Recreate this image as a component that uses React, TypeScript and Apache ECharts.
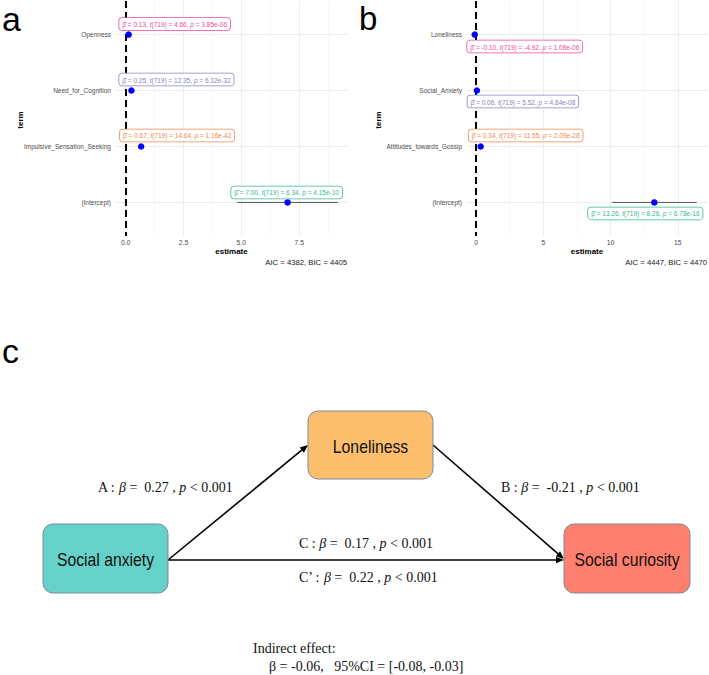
import React, { useEffect, useRef } from "react";
import * as echarts from "echarts";

// ---------- Panel a data ----------
const termsA = ["Openness", "Need_for_Cognition", "Impulsive_Sensation_Seeking", "(Intercept)"];
const estA = [0.13, 0.25, 0.67, 7.0];
const lowA = [0.075, 0.21, 0.58, 4.83];
const highA = [0.185, 0.29, 0.76, 9.17];
const tA = [4.66, 12.35, 14.64, 6.34];
const pA = ["3.85e-06", "6.32e-32", "1.16e-42", "4.15e-10"];
const ticksA = [0, 2.5, 5, 7.5];
const minorA = [1.25, 3.75, 6.25, 8.75];
const fitA = "AIC = 4382, BIC = 4405";

// ---------- Panel b data ----------
const termsB = ["Loneliness", "Social_Anxiety", "Attitudes_towards_Gossip", "(Intercept)"];
const estB = [-0.1, 0.06, 0.34, 13.26];
const lowB = [-0.14, 0.04, 0.28, 10.11];
const highB = [-0.06, 0.08, 0.4, 16.41];
const tB = [-4.92, 5.52, 11.55, 8.26];
const pB = ["1.08e-06", "4.84e-08", "2.09e-28", "6.78e-16"];
const ticksB = [0, 5, 10, 15];
const minorB = [2.5, 7.5, 12.5];
const fitB = "AIC = 4447, BIC = 4470";

const dfResid = 719;

// ---------- Panel c (mediation) ----------
const pathA = { name: "A", beta: "0.27", p: "0.001" };
const pathB = { name: "B", beta: "-0.21", p: "0.001" };
const pathC = { name: "C", beta: "0.17", p: "0.001" };
const pathC2 = { name: "C\u2019", beta: "0.22", p: "0.001" };
const indirect = { beta: "-0.06", lo: "-0.08", hi: "-0.03" };

// styles
const labelColors = ["#EC4A97", "#8782C4", "#F0884C", "#34B996"];
const offsetsA = [[46, -10.5], [45, -11], [36, -11], [-1, -10]];
const offsetsB = [[50, 12], [46, 11], [45, -11], [-9, 11]];
const SANS = "'Liberation Sans', Arial, Helvetica, sans-serif";
const SERIF = "'Liberation Serif', 'Times New Roman', serif";

function labelText(est: number, t: number, p: string) {
  return `{h|\u03B2\u0302} = ${est.toFixed(2)}, {i|t}(${dfResid}) = ${t.toFixed(2)}, {i|p} = ${p}`;
}

function buildPanel(
  idx: number,
  terms: string[],
  est: number[],
  low: number[],
  high: number[],
  tv: number[],
  pv: string[],
  ticks: number[],
  minor: number[],
  offsets: number[][],
  ticksFmt: (v: number) => string,
  min: number,
  max: number,
  left: number,
  width: number
) {
  const grid = { left, top: 1, width, height: 235 };
  const xAxis = {
    type: "value",
    gridIndex: idx,
    min,
    max,
    axisLine: { show: false },
    axisTick: { show: false },
    splitLine: { show: false },
    axisLabel: {
      customValues: ticks,
      formatter: (v: number) => ticksFmt(v),
      color: "#4D4D4D",
      fontSize: 6.8,
      fontFamily: SANS,
      margin: 3,
    },
    name: "estimate",
    nameLocation: "middle",
    nameGap: 11,
    nameTextStyle: { fontWeight: "bold", fontSize: 8, color: "#000", fontFamily: SANS },
  };
  const yAxis = {
    type: "value",
    gridIndex: idx,
    min: 0.4,
    max: 4.6,
    inverse: true,
    axisLine: { show: false },
    axisTick: { show: true, customValues: [1, 2, 3, 4], length: 2.5, lineStyle: { color: "#333", width: 0.8 } },
    splitLine: { show: false },
    axisLabel: {
      customValues: [1, 2, 3, 4],
      formatter: (v: number) => terms[Math.round(v) - 1] || "",
      color: "#4D4D4D",
      fontSize: 6.5,
      fontFamily: SANS,
      margin: 4,
    },
  };
  const gridLines: any[] = [];
  minor.forEach((v) => gridLines.push({ xAxis: v, lineStyle: { color: "#F4F4F4", width: 0.6, type: "solid" } }));
  ticks.forEach((v) => gridLines.push({ xAxis: v, lineStyle: { color: "#EBEBEB", width: 0.9, type: "solid" } }));
  [1, 2, 3, 4].forEach((v) => gridLines.push({ yAxis: v, lineStyle: { color: "#EBEBEB", width: 0.9, type: "solid" } }));
  gridLines.push({ xAxis: 0, lineStyle: { color: "#000", width: 2, type: [7, 4] } });

  const ciSeries = {
    type: "custom",
    xAxisIndex: idx,
    yAxisIndex: idx,
    z: 2,
    data: terms.map((_, i) => [i + 1, low[i], high[i]]),
    encode: { x: [1, 2], y: 0 },
    renderItem: (params: any, api: any) => {
      const y = api.value(0);
      const p1 = api.coord([api.value(1), y]);
      const p2 = api.coord([api.value(2), y]);
      return {
        type: "line",
        shape: { x1: p1[0], y1: p1[1], x2: p2[0], y2: p2[1] },
        style: { stroke: "#555", lineWidth: 1 },
      };
    },
    markLine: {
      z: 1,
      silent: true,
      symbol: "none",
      label: { show: false },
      emphasis: { disabled: true },
      data: gridLines,
    },
  };
  const pointSeries = {
    type: "scatter",
    xAxisIndex: idx,
    yAxisIndex: idx,
    z: 3,
    symbolSize: 6.5,
    itemStyle: { color: "#0000FF", opacity: 1 },
    data: terms.map((_, i) => {
      const c = labelColors[i];
      return {
        value: [est[i], i + 1],
        label: {
          show: true,
          position: "inside",
          offset: offsets[i],
          formatter: labelText(est[i], tv[i], pv[i]),
          color: c,
          fontSize: 6.5,
          fontFamily: SANS,
          backgroundColor: "#fff",
          borderColor: c,
          borderWidth: 0.8,
          borderRadius: 3,
          padding: [3, 3, 2, 3],
          rich: {
            h: { color: c, fontSize: 6.5, fontFamily: SANS },
            i: { color: c, fontSize: 6.5, fontStyle: "italic", fontFamily: SANS },
          },
        },
      };
    }),
  };
  return { grid, xAxis, yAxis, series: [ciSeries, pointSeries] };
}

function arrow(x1: number, y1: number, x2: number, y2: number) {
  const dx = x2 - x1;
  const dy = y2 - y1;
  const L = Math.hypot(dx, dy);
  const ux = dx / L;
  const uy = dy / L;
  const len = 8;
  const w = 3.3;
  const bx = x2 - ux * len;
  const by = y2 - uy * len;
  return [
    { type: "line", shape: { x1, y1, x2: bx + ux * 1, y2: by + uy * 1 }, style: { stroke: "#000", lineWidth: 1.6 } },
    {
      type: "polygon",
      shape: { points: [[x2, y2], [bx - uy * w, by + ux * w], [bx + uy * w, by - ux * w]] },
      style: { fill: "#000" },
    },
  ];
}

function pathLabel(pth: { name: string; beta: string; p: string }, x: number, y: number) {
  return {
    type: "text",
    x,
    y,
    style: {
      text: `{n|${pth.name} : }{i|\u03B2}{n| =  ${pth.beta} , }{i|p}{n| < ${pth.p}}`,
      textVerticalAlign: "middle",
      textAlign: "left",
      rich: {
        n: { fontFamily: SERIF, fontSize: 14, fill: "#111", color: "#111" },
        i: { fontFamily: SERIF, fontSize: 14, fontStyle: "italic", fill: "#111", color: "#111" },
      },
    },
  };
}

function box(x: number, y: number, w: number, h: number, fill: string, label: string) {
  return [
    { type: "rect", shape: { x, y, width: w, height: h, r: 10 }, style: { fill, stroke: "#7D8A9C", lineWidth: 1 } },
    {
      type: "text",
      x: x + w / 2,
      y: y + h / 2 + 1,
      scaleX: 0.83,
      style: { text: label, fontFamily: SANS, fontSize: 19, fill: "#111", textAlign: "center", textVerticalAlign: "middle" },
    },
  ];
}

export default function App() {
  const ref = useRef<HTMLDivElement>(null);
  useEffect(() => {
    if (!ref.current) return;
    const chart = echarts.init(ref.current, null, { renderer: "svg" });
    const pa = buildPanel(0, termsA, estA, lowA, highA, tA, pA, ticksA, minorA, offsetsA, (v) => v.toFixed(1), -0.46, 9.61, 115, 233);
    const pb = buildPanel(1, termsB, estB, lowB, highB, tB, pB, ticksB, minorB, offsetsB, (v) => String(v), -0.75, 17.25, 466, 242);

    const graphics: any[] = [
      { type: "text", x: 2, y: 2, style: { text: "a", fontFamily: SANS, fontSize: 34, fill: "#000", textVerticalAlign: "top" } },
      { type: "text", x: 359, y: 2, style: { text: "b", fontFamily: SANS, fontSize: 33, fill: "#000", textVerticalAlign: "top" } },
      { type: "text", x: 2, y: 334, style: { text: "c", fontFamily: SANS, fontSize: 34, fill: "#000", textVerticalAlign: "top" } },
      { type: "text", x: 20.5, y: 120, rotation: Math.PI / 2, style: { text: "term", fontFamily: SANS, fontSize: 8, fontWeight: "bold", fill: "#000", textAlign: "center", textVerticalAlign: "middle" } },
      { type: "text", x: 378, y: 120, rotation: Math.PI / 2, style: { text: "term", fontFamily: SANS, fontSize: 8, fontWeight: "bold", fill: "#000", textAlign: "center", textVerticalAlign: "middle" } },
      { type: "text", x: 347, y: 262, style: { text: fitA, fontFamily: SANS, fontSize: 7.7, fill: "#1A1A1A", textAlign: "right", textVerticalAlign: "middle" } },
      { type: "text", x: 707, y: 262, style: { text: fitB, fontFamily: SANS, fontSize: 7.7, fill: "#1A1A1A", textAlign: "right", textVerticalAlign: "middle" } },
      ...arrow(168, 560, 308, 445),
      ...arrow(433, 445, 564, 559),
      ...arrow(168, 560, 564, 560),
      ...box(308, 411, 125, 68, "#FDBE6E", "Loneliness"),
      ...box(43, 524, 125, 69, "#66D1C8", "Social anxiety"),
      ...box(564, 524, 126, 69, "#FF7F6E", "Social curiosity"),
      pathLabel(pathA, 98, 487),
      pathLabel(pathB, 501, 487),
      pathLabel(pathC, 299, 543),
      pathLabel(pathC2, 299, 577),
      { type: "text", x: 253, y: 648, style: { text: "Indirect effect:", fontFamily: SERIF, fontSize: 14, fill: "#111", textVerticalAlign: "middle" } },
      {
        type: "text",
        x: 269,
        y: 666,
        style: {
          text: `\u03B2 = ${indirect.beta},   95%CI = [${indirect.lo}, ${indirect.hi}]`,
          fontFamily: SERIF,
          fontSize: 14,
          fill: "#111",
          textVerticalAlign: "middle",
        },
      },
    ];

    chart.setOption({
      animation: false,
      backgroundColor: "#fff",
      grid: [pa.grid, pb.grid],
      xAxis: [pa.xAxis, pb.xAxis],
      yAxis: [pa.yAxis, pb.yAxis],
      series: [...pa.series, ...pb.series],
      graphic: graphics,
    });
    return () => chart.dispose();
  }, []);
  return <div ref={ref} style={{ position: "fixed", left: 0, top: 0, width: 709, height: 675 }} />;
}
